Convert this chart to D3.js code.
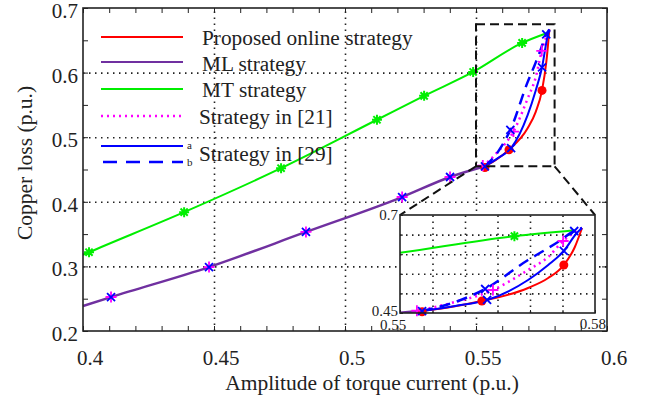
<!DOCTYPE html>
<html>
<head>
<meta charset="utf-8">
<script src="https://cdn.jsdelivr.net/npm/d3@7"></script>
<style>
  body { margin: 0; background: #fff; }
  .grid line { stroke: #222; stroke-width: 1.6; stroke-dasharray: 1.5,4.5; }
  .grid path { display: none; }
  .ticks path { display: none; }
  .ticks line { stroke: #222; stroke-width: 1; }
</style>
</head>
<body>
<div id="chart"></div>
<script>
// ---- data ----
var xTicks = [0.4, 0.45, 0.5, 0.55, 0.6];
var yTicks = [0.2, 0.3, 0.4, 0.5, 0.6, 0.7];
var xTickLabels = ["0.4", "0.45", "0.5", "0.55", "0.6"];
var yTickLabels = ["0.2", "0.3", "0.4", "0.5", "0.6", "0.7"];

// MT strategy (green, * markers)
var mtLine = [[0.400, 0.318], [0.4023, 0.322], [0.4386, 0.384], [0.4756, 0.452], [0.5122, 0.527],
              [0.5302, 0.564], [0.5489, 0.601], [0.5676, 0.646], [0.5769, 0.661]];
var mtMarks = [[0.4023, 0.322], [0.4386, 0.384], [0.4756, 0.452], [0.5122, 0.527],
               [0.5302, 0.564], [0.5489, 0.601], [0.5676, 0.646]];

// ML strategy (purple), shared part of all the other strategies
var mlLine = [[0.400, 0.2387], [0.4107, 0.2526], [0.4481, 0.299], [0.4851, 0.3533],
              [0.5218, 0.4074], [0.5401, 0.4384], [0.5534, 0.455]];
var mlMarks = [[0.4107, 0.2526], [0.4481, 0.299], [0.4851, 0.3533], [0.5218, 0.4074], [0.5401, 0.4384]];

// proposed online strategy (red, o markers)
var propLine = [[0.5534, 0.455], [0.558, 0.466], [0.5626, 0.4806], [0.5697, 0.5138], [0.5728, 0.5393],
                [0.5752, 0.5724], [0.5769, 0.6184], [0.578, 0.6668]];
var propMarks = [[0.5534, 0.453], [0.5626, 0.4806], [0.5752, 0.5724]];

// strategy in [21] (magenta dotted, + markers)
var s21Line = [[0.5526, 0.455], [0.558, 0.476], [0.5643, 0.5087], [0.5697, 0.5597], [0.5728, 0.5929],
               [0.5751, 0.6337], [0.578, 0.6668]];
var s21Marks = [[0.5526, 0.456], [0.5643, 0.5087], [0.5751, 0.6337]];

// strategy in [29] a (blue solid, x markers)
var s29aLine = [[0.5534, 0.455], [0.5585, 0.468], [0.5634, 0.4832], [0.5697, 0.5342], [0.5728, 0.5724],
                [0.5752, 0.6082], [0.5772, 0.654], [0.578, 0.6668]];
var s29aMarks = [[0.5534, 0.455], [0.5634, 0.4832], [0.5752, 0.6082]];

// strategy in [29] b (blue dashed, x markers)
var s29bLine = [[0.5534, 0.455], [0.5585, 0.478], [0.5631, 0.5112], [0.5697, 0.5852], [0.5723, 0.6107],
                [0.5743, 0.6311], [0.5768, 0.6592], [0.578, 0.6668]];
var s29bMarks = [[0.5631, 0.5112], [0.5768, 0.6592]];

// zoomed window
var zoomX = [0.55, 0.58];
var zoomY = [0.455, 0.675];
var insetXTicks = [0.55, 0.555, 0.56, 0.565, 0.57, 0.575, 0.58];
var insetYTicks = [0.45, 0.5, 0.55, 0.6, 0.65, 0.7];

var legendNames = ["Proposed online strategy", "ML strategy", "MT strategy", "Strategy in [21]", "Strategy in [29]"];

// ---- drawing ----
var W = 647, H = 404;
var FONT = "'Liberation Serif', 'Times New Roman', 'DejaVu Serif', serif";
var svg = d3.select("#chart").append("svg").attr("width", W).attr("height", H)
    .attr("font-family", FONT);

var x = d3.scaleLinear().domain([0.4, 0.6]).range([83, 607]);
var y = d3.scaleLinear().domain([0.2, 0.7]).range([331, 8]);

var colors = { red: "#ff0000", purple: "#7030a0", green: "#00ee00", magenta: "#ff00ff", blue: "#0000ff" };

// grid
svg.append("g").attr("class", "grid")
    .attr("transform", "translate(0,331)")
    .call(d3.axisBottom(x).tickValues([0.45, 0.5, 0.55]).tickSize(-323).tickFormat(""));
svg.append("g").attr("class", "grid")
    .attr("transform", "translate(83,0)")
    .call(d3.axisLeft(y).tickValues([0.3, 0.4, 0.5, 0.6]).tickSize(-524).tickFormat(""));

// ticks on all four sides, pointing in
var xMinor = d3.range(0.4, 0.6001, 0.01);
var yMinor = d3.range(0.2, 0.7001, 0.05);
svg.append("g").attr("class", "ticks").attr("transform", "translate(0,331)")
    .call(d3.axisBottom(x).tickValues(xMinor).tickSize(-5).tickFormat(""));
svg.append("g").attr("class", "ticks").attr("transform", "translate(0,8)")
    .call(d3.axisTop(x).tickValues(xMinor).tickSize(-5).tickFormat(""));
svg.append("g").attr("class", "ticks").attr("transform", "translate(83,0)")
    .call(d3.axisLeft(y).tickValues(yMinor).tickSize(-5).tickFormat(""));
svg.append("g").attr("class", "ticks").attr("transform", "translate(607,0)")
    .call(d3.axisRight(y).tickValues(yMinor).tickSize(-5).tickFormat(""));

function drawSeries(g, xs, ys, clipId) {
    var line = d3.line().x(function(d) { return xs(d[0]); }).y(function(d) { return ys(d[1]); })
        .curve(d3.curveMonotoneX);
    // only keep markers that fall inside this plot's window
    var xd = xs.domain(), yd = ys.domain();
    function inside(pts) {
        return pts.filter(function(d) {
            return d[0] >= xd[0] - 0.001 && d[0] <= xd[1] && d[1] >= yd[0] - 0.01 && d[1] <= yd[1];
        });
    }
    var lg = g.append("g");
    if (clipId) lg.attr("clip-path", "url(#" + clipId + ")");
    lg.append("path").datum(mtLine).attr("d", line).attr("fill", "none")
        .attr("stroke", colors.green).attr("stroke-width", 2);
    lg.append("path").datum(mlLine).attr("d", line).attr("fill", "none")
        .attr("stroke", colors.purple).attr("stroke-width", 2.4);
    lg.append("path").datum(propLine).attr("d", line).attr("fill", "none")
        .attr("stroke", colors.red).attr("stroke-width", 2);
    lg.append("path").datum(s21Line).attr("d", line).attr("fill", "none")
        .attr("stroke", colors.magenta).attr("stroke-width", 2.5).attr("stroke-dasharray", "2,4");
    lg.append("path").datum(s29aLine).attr("d", line).attr("fill", "none")
        .attr("stroke", colors.blue).attr("stroke-width", 2);
    lg.append("path").datum(s29bLine).attr("d", line).attr("fill", "none")
        .attr("stroke", colors.blue).attr("stroke-width", 2.5).attr("stroke-dasharray", "11,7");

    var mg = g.append("g");
    // green asterisks
    mg.selectAll(".mt").data(inside(mtMarks)).enter().append("path")
        .attr("transform", function(d) { return "translate(" + xs(d[0]) + "," + ys(d[1]) + ")"; })
        .attr("d", "M-5,0H5M0,-5V5M-3.6,-3.6L3.6,3.6M-3.6,3.6L3.6,-3.6")
        .attr("stroke", colors.green).attr("stroke-width", 2);
    // red dots
    mg.selectAll(".pr").data(inside(propMarks)).enter().append("circle")
        .attr("cx", function(d) { return xs(d[0]); }).attr("cy", function(d) { return ys(d[1]); })
        .attr("r", 4.5).attr("fill", colors.red);
    // magenta plus
    mg.selectAll(".s21").data(inside(mlMarks.concat(s21Marks))).enter().append("path")
        .attr("transform", function(d) { return "translate(" + xs(d[0]) + "," + ys(d[1]) + ")"; })
        .attr("d", "M-5.5,0H5.5M0,-5.5V5.5")
        .attr("stroke", colors.magenta).attr("stroke-width", 1.8);
    // blue crosses
    mg.selectAll(".s29").data(inside(mlMarks.concat(s29aMarks, s29bMarks))).enter().append("path")
        .attr("transform", function(d) { return "translate(" + xs(d[0]) + "," + ys(d[1]) + ")"; })
        .attr("d", "M-4,-4L4,4M-4,4L4,-4")
        .attr("stroke", colors.blue).attr("stroke-width", 1.8);
}

drawSeries(svg, x, y, null);

// zoom box and connectors
var zb = { x0: x(zoomX[0]), x1: x(zoomX[1]), y0: y(zoomY[1]), y1: y(zoomY[0]) };
svg.append("rect").attr("x", zb.x0).attr("y", zb.y0)
    .attr("width", zb.x1 - zb.x0).attr("height", zb.y1 - zb.y0)
    .attr("fill", "none").attr("stroke", "#111").attr("stroke-width", 2).attr("stroke-dasharray", "9,5");

// inset
var xi = d3.scaleLinear().domain([0.55, 0.58]).range([400, 595]);
var yi = d3.scaleLinear().domain([0.45, 0.7]).range([313, 215]);

svg.append("line").attr("x1", zb.x0).attr("y1", zb.y1).attr("x2", xi(0.55)).attr("y2", yi(0.7))
    .attr("stroke", "#111").attr("stroke-width", 2).attr("stroke-dasharray", "9,5");
svg.append("line").attr("x1", zb.x1).attr("y1", zb.y1).attr("x2", xi(0.58)).attr("y2", yi(0.7))
    .attr("stroke", "#111").attr("stroke-width", 2).attr("stroke-dasharray", "9,5");

var inset = svg.append("g");
inset.append("rect").attr("x", 400).attr("y", 215).attr("width", 195).attr("height", 98).attr("fill", "#fff");
svg.append("clipPath").attr("id", "insetclip").append("rect")
    .attr("x", 400).attr("y", 215).attr("width", 195).attr("height", 98);

inset.append("g").attr("class", "grid").attr("transform", "translate(0,313)")
    .call(d3.axisBottom(xi).tickValues(insetXTicks.slice(1, -1)).tickSize(-98).tickFormat(""));
inset.append("g").attr("class", "grid").attr("transform", "translate(400,0)")
    .call(d3.axisLeft(yi).tickValues(insetYTicks.slice(1, -1)).tickSize(-195).tickFormat(""));
inset.append("g").attr("class", "ticks").attr("transform", "translate(0,313)")
    .call(d3.axisBottom(xi).tickValues(insetXTicks).tickSize(-3).tickFormat(""));
inset.append("g").attr("class", "ticks").attr("transform", "translate(400,0)")
    .call(d3.axisLeft(yi).tickValues(insetYTicks).tickSize(-3).tickFormat(""));

drawSeries(inset, xi, yi, "insetclip");

inset.append("rect").attr("x", 400).attr("y", 215).attr("width", 195).attr("height", 98)
    .attr("fill", "none").attr("stroke", "#222").attr("stroke-width", 1.6);

inset.append("text").attr("x", 398).attr("y", 220).attr("text-anchor", "end")
    .attr("font-size", 15).attr("fill", "#222").text("0.7");
inset.append("text").attr("x", 398).attr("y", 316).attr("text-anchor", "end")
    .attr("font-size", 15).attr("fill", "#222").text("0.45");
inset.append("text").attr("x", 380).attr("y", 330)
    .attr("font-size", 15).attr("fill", "#222").text("0.55");
inset.append("text").attr("x", 606).attr("y", 329).attr("text-anchor", "end")
    .attr("font-size", 15).attr("fill", "#222").text("0.58");

// axes frame
svg.append("rect").attr("x", 83).attr("y", 8).attr("width", 524).attr("height", 323)
    .attr("fill", "none").attr("stroke", "#222").attr("stroke-width", 1.6);

// tick labels
svg.selectAll(".xl").data(xTicks).enter().append("text")
    .attr("x", function(d) { return x(d) + 7; }).attr("y", 365)
    .attr("text-anchor", "middle").attr("font-size", 21).attr("fill", "#222")
    .text(function(d, i) { return xTickLabels[i]; });
svg.selectAll(".yl").data(yTicks).enter().append("text")
    .attr("x", 78).attr("y", function(d) { return y(d) + 10; })
    .attr("text-anchor", "end").attr("font-size", 21).attr("fill", "#222")
    .text(function(d, i) { return yTickLabels[i]; });

// axis titles
svg.append("text").attr("x", 372).attr("y", 390).attr("text-anchor", "middle")
    .attr("font-size", 21.5).attr("fill", "#222").text("Amplitude of torque current (p.u.)");
svg.append("text").attr("transform", "translate(32,163) rotate(-90)").attr("text-anchor", "middle")
    .attr("font-size", 21.5).attr("fill", "#222").text("Copper loss (p.u.)");

// legend
var legendRows = [37, 62, 89, 116, 146];
var lg = svg.append("g");
function legLine(yy, color, dash, width) {
    lg.append("line").attr("x1", 101).attr("x2", 183).attr("y1", yy).attr("y2", yy)
        .attr("stroke", color).attr("stroke-width", width).attr("stroke-dasharray", dash);
}
legLine(legendRows[0], colors.red, null, 2);
legLine(legendRows[1], colors.purple, null, 2);
legLine(legendRows[2], colors.green, null, 2);
legLine(legendRows[3], colors.magenta, "2,4", 2.5);
legLine(legendRows[4], colors.blue, null, 2);
lg.append("line").attr("x1", 103).attr("x2", 183).attr("y1", 162).attr("y2", 162)
    .attr("stroke", colors.blue).attr("stroke-width", 2.5).attr("stroke-dasharray", "14,9");
lg.append("text").attr("x", 187).attr("y", 149).attr("font-size", 11).attr("fill", "#222").text("a");
lg.append("text").attr("x", 187).attr("y", 166).attr("font-size", 11).attr("fill", "#222").text("b");

var legendTextY = [45, 71, 97, 124, 161];
lg.selectAll(".lt").data(legendNames).enter().append("text")
    .attr("x", function(d, i) { return i < 3 ? 202 : 199; })
    .attr("y", function(d, i) { return legendTextY[i]; })
    .attr("font-size", 21.3).attr("fill", "#222")
    .text(function(d) { return d; });
</script>
</body>
</html>
